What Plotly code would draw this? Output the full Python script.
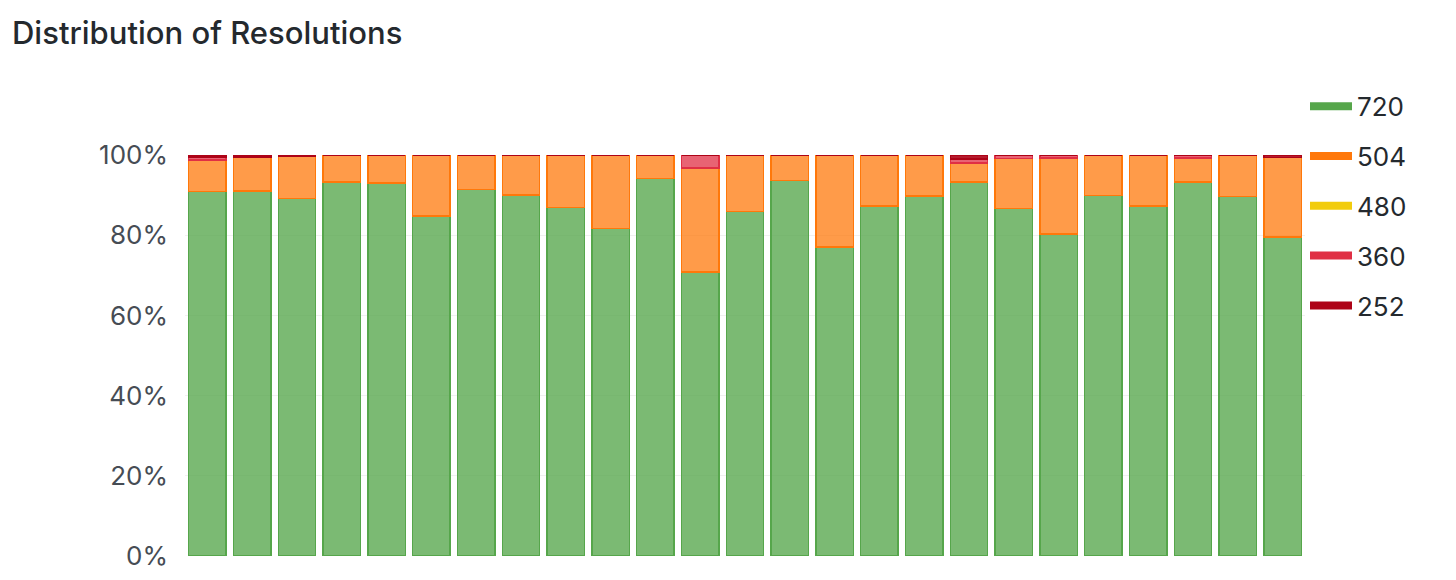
import plotly.graph_objects as go

# share of each resolution per bucket (percent)
buckets = list(range(1, 26))
res_720 = [90.9, 91.0, 89.2, 93.3, 93.0, 84.8, 91.4, 90.0, 86.9, 81.7, 94.2, 70.8, 85.9,
           93.6, 77.0, 87.3, 89.8, 93.3, 86.7, 80.3, 89.9, 87.3, 93.3, 89.6, 79.6]
res_504 = [7.9, 8.5, 10.4, 6.7, 7.0, 15.2, 8.6, 10.0, 13.1, 18.3, 5.8, 25.9, 14.1,
           6.4, 23.0, 12.7, 10.2, 4.7, 12.4, 18.9, 10.1, 12.7, 6.0, 10.4, 19.8]
res_480 = [0] * 25
res_360 = [0.7, 0, 0, 0, 0, 0, 0, 0, 0, 0, 0, 3.3, 0,
           0, 0, 0, 0, 1.0, 0.9, 0.8, 0, 0, 0.7, 0, 0]
res_252 = [0.5, 0.5, 0.4, 0, 0, 0, 0, 0, 0, 0, 0, 0, 0,
           0, 0, 0, 0, 1.0, 0, 0, 0, 0, 0, 0, 0.6]

y_ticks = [0, 20, 40, 60, 80, 100]
y_tick_text = ["0%", "20%", "40%", "60%", "80%", "100%"]

series = [
    ("720", res_720, "#56A64B", "rgba(86,166,75,0.78)"),
    ("504", res_504, "#FF780A", "rgba(255,120,10,0.74)"),
    ("480", res_480, "#F2CC0C", "rgba(242,204,12,0.75)"),
    ("360", res_360, "#E02F44", "rgba(224,47,68,0.75)"),
    ("252", res_252, "#AD0317", "rgba(173,3,23,0.9)"),
]

fig = go.Figure()

for name, vals, line_col, fill_col in series:
    fig.add_trace(go.Bar(
        x=buckets, y=vals, name=name, showlegend=False,
        marker=dict(color=fill_col, line=dict(color=line_col, width=1.5)),
        hoverinfo="y+name",
    ))

# legend entries drawn as short thick lines, like the original
for name, vals, line_col, fill_col in series:
    fig.add_trace(go.Scatter(
        x=[None], y=[None], mode="lines", name=name, legendgroup=name,
        line=dict(color=line_col, width=8),
    ))

fig.update_layout(
    width=1456, height=580,
    barmode="stack", barnorm="percent", bargap=0.165,
    plot_bgcolor="white", paper_bgcolor="white",
    font=dict(family="Inter, sans-serif", size=26, color="#464c54"),
    margin=dict(l=177, r=159, t=147, b=32),
    title=dict(text="Distribution of Resolutions", x=4 / 1456, xref="container", xanchor="left",
               y=1 - 25 / 580, yref="container", yanchor="middle",
               font=dict(size=31, color="#24292e", weight=500)),
    legend=dict(x=1.0, xanchor="left", y=1.18, yanchor="top",
                font=dict(size=26, color="#24292e"), tracegroupgap=13,
                itemwidth=42),
    showlegend=True,
)

fig.update_xaxes(showticklabels=False, showgrid=False, zeroline=False, ticks="",
                 range=[0.5, 25.5])
fig.update_yaxes(range=[0, 100], tickvals=y_ticks, ticktext=y_tick_text,
                 showgrid=True, gridcolor="rgba(0,0,0,0.06)", zeroline=False,
                 ticks="", ticklabelstandoff=16)

fig.write_html("out.html")
